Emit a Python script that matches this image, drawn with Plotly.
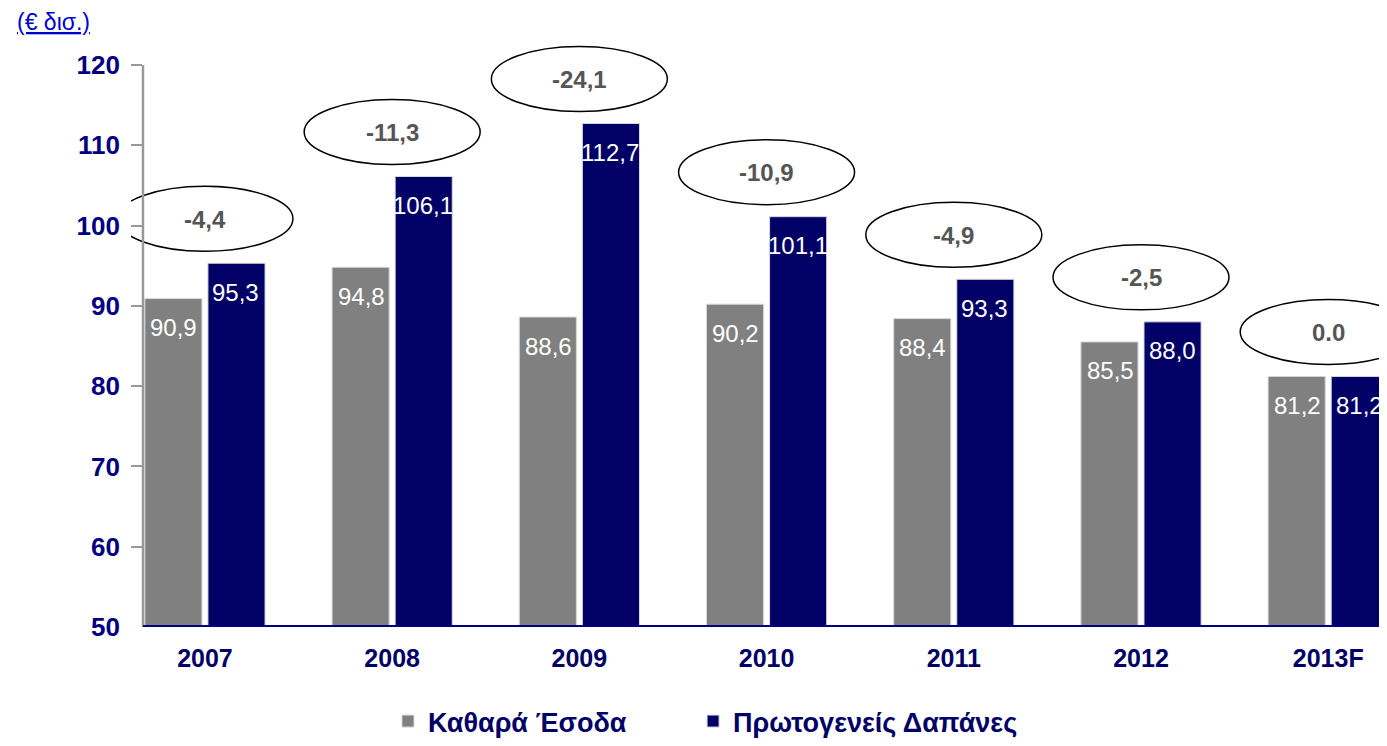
import plotly.graph_objects as go

categories = ["2007", "2008", "2009", "2010", "2011", "2012", "2013F"]
revenue = [90.9, 94.8, 88.6, 90.2, 88.4, 85.5, 81.2]
spending = [95.3, 106.1, 112.7, 101.1, 93.3, 88.0, 81.2]
balance_labels = ["-4,4", "-11,3", "-24,1", "-10,9", "-4,9", "-2,5", "0.0"]
y_ticks = [50, 60, 70, 80, 90, 100, 110, 120]

FONT = "Liberation Sans, Arial, sans-serif"
NAVY = "#000066"
TICKNAVY = "#000080"
GRAY = "#808080"

xs = list(range(len(categories)))

X_MIN, X_MAX = -0.395, 6.314
Y_MIN, Y_MAX = 50, 123.1
AXIS_X = -0.331  # where the visible y axis line sits

def fmt(v):
    return f"{v:.1f}".replace(".", ",")

fig = go.Figure()
fig.add_trace(go.Bar(
    x=xs, y=revenue, name="Καθαρά Έσοδα", legend="legend",
    marker=dict(color=GRAY, line=dict(color="#d8d8d8", width=1)),
    width=0.305, offset=-0.321,
))
fig.add_trace(go.Bar(
    x=xs, y=spending, name="Πρωτογενείς Δαπάνες", legend="legend2",
    marker=dict(color=NAVY, line=dict(color="#d8d8d8", width=1)),
    width=0.305, offset=0.016,
))

# value labels inside bars
for i, (r, s) in enumerate(zip(revenue, spending)):
    for v, sh in ((r, -31), (s, 31)):
        fig.add_annotation(x=i, y=v, xref="x", yref="y", xshift=sh, yshift=-29,
                           text=fmt(v), showarrow=False,
                           font=dict(color="white", size=24, family=FONT))

# balance ellipses
for i, (r, s, lab) in enumerate(zip(revenue, spending, balance_labels)):
    top = max(r, s)
    fig.add_shape(type="circle", xref="x", yref="y",
                  xsizemode="pixel", ysizemode="pixel",
                  xanchor=i, yanchor=top,
                  x0=-88, x1=88, y0=12, y1=77,
                  line=dict(color="black", width=1.5),
                  fillcolor="rgba(255,255,255,0)", layer="above")
    fig.add_annotation(x=i, y=top, xref="x", yref="y", yshift=44,
                       text=f"<b>{lab}</b>", showarrow=False,
                       font=dict(color="#555555", size=24, family=FONT))

# axis lines
fig.add_shape(type="line", xref="x", yref="y", x0=AXIS_X, x1=AXIS_X, y0=50, y1=120,
              line=dict(color="#999999", width=2.5), layer="above")
fig.add_shape(type="line", xref="x", yref="y", x0=AXIS_X, x1=X_MAX, y0=50, y1=50,
              line=dict(color=TICKNAVY, width=4), layer="above")

fig.add_annotation(text="<u>(€ δισ.)</u>", xref="paper", yref="paper",
                   x=-0.0924, y=1.0306, xanchor="left", yanchor="middle",
                   showarrow=False, font=dict(family=FONT, size=23, color="#0000cc"))

legend_font = dict(family=FONT, size=27, color=NAVY, weight="bold")
fig.update_layout(
    width=1379, height=738,
    margin=dict(l=123, r=0, t=32, b=118),
    paper_bgcolor="white", plot_bgcolor="white",
    showlegend=True,
    legend=dict(orientation="h", x=0.2046, xanchor="left", y=-0.16, yanchor="middle",
                font=legend_font, bgcolor="rgba(0,0,0,0)"),
    legend2=dict(orientation="h", x=0.4475, xanchor="left", y=-0.16, yanchor="middle",
                 font=legend_font, bgcolor="rgba(0,0,0,0)"),
    xaxis=dict(range=[X_MIN, X_MAX], tickvals=xs,
               ticktext=[f"<b>{c}</b>" for c in categories],
               tickfont=dict(family=FONT, size=25, color=NAVY),
               ticklabelstandoff=14,
               showline=False, showgrid=False, ticks="", zeroline=False),
    yaxis=dict(range=[Y_MIN, Y_MAX], tickvals=y_ticks,
               ticktext=[f"<b>{t}</b>" for t in y_ticks],
               tickfont=dict(family=FONT, size=26, color=TICKNAVY),
               showline=False, ticks="inside", tickcolor="#999999", ticklen=11,
               tickwidth=2, ticklabelstandoff=10,
               showgrid=False, zeroline=False),
)

fig.write_html("out.html")
